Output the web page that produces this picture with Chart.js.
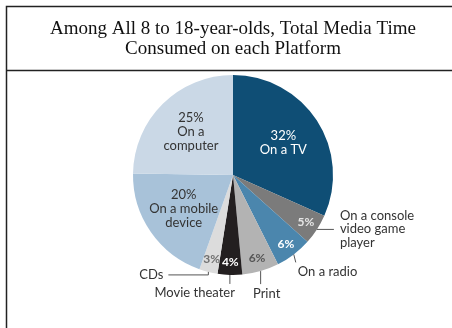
<!DOCTYPE html>
<html>
<head>
<meta charset="utf-8">
<script src="https://cdn.jsdelivr.net/npm/chart.js@4/dist/chart.umd.min.js"></script>
<style>
  html, body { margin: 0; padding: 0; background: #fff; }
  #wrap { width: 452px; height: 328px; }
</style>
</head>
<body>
<div id="wrap"><canvas id="mediaPie" width="452" height="328"></canvas></div>
<script>
// ===============================
// DATA
// ===============================
const platforms = [
  "On a TV",
  "On a console video game player",
  "On a radio",
  "Print",
  "Movie theater",
  "CDs",
  "On a mobile device",
  "On a computer"
];
const shares = [32, 5, 6, 6, 4, 3, 20, 25];
const sliceColors = [
  "#0f4e75", "#7b7b7b", "#4b86ad", "#b3b3b3",
  "#231f20", "#dcdcdc", "#a8c2d9", "#cad8e6"
];

// text inside each slice
const innerLines = [
  ["32%", "On a TV"],
  ["5%"],
  ["6%"],
  ["6%"],
  ["4%"],
  ["3%"],
  ["20%", "On a mobile", "device"],
  ["25%", "On a", "computer"]
];
const innerColors = ["#ffffff", "#e6e6e6", "#ffffff", "#555555", "#ffffff", "#707070", "#333333", "#333333"];

// callouts for the thin slices: leader path + text, relative to the slice edge
const callouts = {
  1: { path: [[17, 0]], text: ["On a console", "video game", "player"], tx: 23, ty: -14, align: "left" },
  2: { path: [[2, 8]], text: ["On a radio"], tx: 4, ty: 17, align: "left" },
  3: { path: [[0, 13]], text: ["Print"], tx: 6, ty: 23, align: "center" },
  4: { path: [[0, 9]], text: ["Movie theater"], tx: 5, ty: 18, align: "right" },
  5: { path: [[0, 3], [-40, 3]], text: ["CDs"], tx: -45, ty: 3, align: "right" }
};

const LABEL_FONT = "13px Lato, 'Open Sans', sans-serif";

// ===============================
// FRAME (table-like border)
// ===============================
const framePlugin = {
  id: "frame",
  afterDraw(chart) {
    const ctx = chart.ctx;
    ctx.save();
    ctx.strokeStyle = "#222";
    ctx.lineWidth = 1.5;
    ctx.beginPath();
    ctx.moveTo(452, 6.5);
    ctx.lineTo(6.5, 6.5);
    ctx.lineTo(6.5, 328);
    ctx.moveTo(6.5, 70.5);
    ctx.lineTo(452, 70.5);
    ctx.stroke();
    ctx.restore();
  }
};

// ===============================
// SLICE LABELS + CALLOUTS
// ===============================
const labelPlugin = {
  id: "sliceLabels",
  afterDatasetsDraw(chart) {
    const ctx = chart.ctx;
    const arcs = chart.getDatasetMeta(0).data;
    ctx.save();
    ctx.font = LABEL_FONT;
    ctx.textBaseline = "middle";

    arcs.forEach((arc, i) => {
      const p = arc.getProps(["x", "y", "startAngle", "endAngle", "outerRadius"], true);
      const mid = (p.startAngle + p.endAngle) / 2;
      const big = shares[i] >= 10;
      const rr = p.outerRadius * (big ? 0.6 : 0.87);
      const cx = p.x + Math.cos(mid) * rr;
      const cy = p.y + Math.sin(mid) * rr;
      const lines = innerLines[i];
      const lh = 14;

      ctx.fillStyle = innerColors[i];
      ctx.textAlign = "center";
      ctx.font = big ? LABEL_FONT : "bold 12px Lato, 'Open Sans', sans-serif";
      lines.forEach((t, k) => {
        ctx.fillText(t, cx, cy + (k - (lines.length - 1) / 2) * lh);
      });

      const c = callouts[i];
      if (!c) return;
      const ex = p.x + Math.cos(mid) * p.outerRadius;
      const ey = p.y + Math.sin(mid) * p.outerRadius;
      ctx.strokeStyle = "#555";
      ctx.lineWidth = 1;
      ctx.beginPath();
      ctx.moveTo(ex, ey);
      c.path.forEach(([dx, dy]) => ctx.lineTo(ex + dx, ey + dy));
      ctx.stroke();

      ctx.font = LABEL_FONT;
      ctx.fillStyle = "#333";
      ctx.textAlign = c.align;
      c.text.forEach((t, k) => {
        ctx.fillText(t, ex + c.tx, ey + c.ty + k * 13.5);
      });
    });
    ctx.restore();
  }
};

// ===============================
// CHART
// ===============================
new Chart(document.getElementById("mediaPie"), {
  type: "pie",
  data: {
    labels: platforms,
    datasets: [{
      data: shares,
      backgroundColor: sliceColors,
      borderWidth: 0
    }]
  },
  options: {
    responsive: false,
    animation: false,
    layout: {
      padding: { top: 0, left: 14, right: 0, bottom: 53 }
    },
    plugins: {
      legend: { display: false },
      tooltip: { enabled: false },
      title: {
        display: true,
        text: ["Among All 8 to 18-year-olds, Total Media Time", "Consumed on each Platform"],
        color: "#111",
        font: { family: "'Liberation Serif', 'DejaVu Serif', serif", size: 19, weight: "normal", lineHeight: 20 / 19 },
        padding: { top: 19, bottom: 16 }
      }
    }
  },
  plugins: [framePlugin, labelPlugin]
});
</script>
</body>
</html>
